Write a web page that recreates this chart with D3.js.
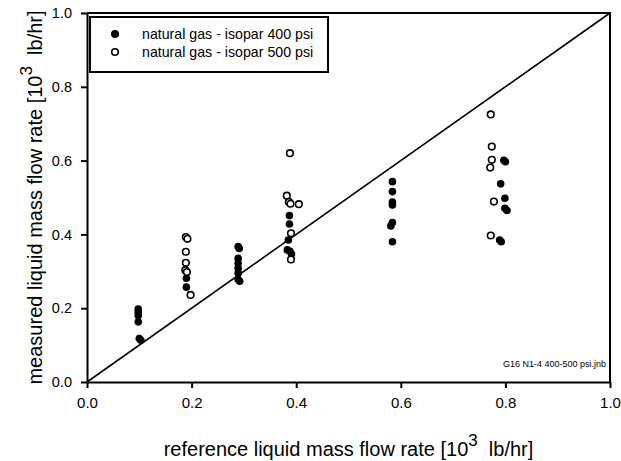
<!DOCTYPE html>
<html lang="en">
<head>
<meta charset="utf-8">
<title>measured vs reference liquid mass flow rate</title>
<script src="https://cdnjs.cloudflare.com/ajax/libs/d3/7.8.5/d3.min.js"></script>
<style>
  body { margin: 0; background: #fff; }
  svg { font-family: "Liberation Sans", Arial, sans-serif; }
  .axis path, .axis line { stroke: #000; stroke-width: 2; }
  .axis text { fill: #000; }
  .xaxis text { font-size: 15px; }
  .yaxis text { font-size: 14.5px; }
</style>
</head>
<body>
<div id="chart"></div>
<script>
// tick values
const ticks = [0.0, 0.2, 0.4, 0.6, 0.8, 1.0];

// natural gas - isopar 400 psi (filled)
const gas400X = [0.098, 0.098, 0.098, 0.098, 0.100, 0.103,
                 0.190, 0.190,
                 0.289, 0.291, 0.289, 0.289, 0.289, 0.289, 0.289, 0.292,
                 0.387, 0.387, 0.385, 0.383, 0.388, 0.391,
                 0.584, 0.584, 0.584, 0.584, 0.584, 0.581, 0.584,
                 0.797, 0.800, 0.791, 0.799, 0.799, 0.803, 0.789, 0.792];
const gas400Y = [0.198, 0.190, 0.180, 0.163, 0.118, 0.113,
                 0.281, 0.257,
                 0.367, 0.362, 0.335, 0.322, 0.308, 0.295, 0.278, 0.273,
                 0.451, 0.428, 0.385, 0.358, 0.354, 0.347,
                 0.543, 0.516, 0.488, 0.480, 0.432, 0.423, 0.380,
                 0.601, 0.597, 0.537, 0.498, 0.471, 0.465, 0.385, 0.380];

// natural gas - isopar 500 psi (open)
const gas500X = [0.189, 0.192, 0.189, 0.189, 0.188, 0.191, 0.198,
                 0.388, 0.382, 0.386, 0.389, 0.405, 0.390, 0.390,
                 0.772, 0.774, 0.774, 0.771, 0.778, 0.772];
const gas500Y = [0.393, 0.388, 0.353, 0.323, 0.303, 0.298, 0.236,
                 0.620, 0.505, 0.488, 0.483, 0.482, 0.403, 0.332,
                 0.725, 0.638, 0.602, 0.581, 0.489, 0.397];

const seriesNames = ["natural gas - isopar 400 psi", "natural gas - isopar 500 psi"];

const width = 621, height = 461;
const margin = {left: 87, right: 11, top: 13, bottom: 79};

const svg = d3.select("#chart").append("svg")
    .attr("width", width)
    .attr("height", height);

const x = d3.scaleLinear().domain([0, 1]).range([margin.left, width - margin.right]);
const y = d3.scaleLinear().domain([0, 1]).range([height - margin.bottom, margin.top]);

// frame (top and right)
svg.append("path")
    .attr("d", `M${x(0)},${y(1)}H${x(1)}V${y(0)}`)
    .attr("fill", "none")
    .attr("stroke", "#000")
    .attr("stroke-width", 2);

// axes
svg.append("g")
    .attr("class", "axis xaxis")
    .attr("transform", `translate(0,${y(0)})`)
    .call(d3.axisBottom(x).tickValues(ticks).tickFormat(d3.format(".1f")).tickSize(6).tickPadding(9).tickSizeOuter(0));

svg.append("g")
    .attr("class", "axis yaxis")
    .attr("transform", `translate(${x(0)},0)`)
    .call(d3.axisLeft(y).tickValues(ticks).tickFormat(d3.format(".1f")).tickSize(6).tickPadding(9).tickSizeOuter(0));

// 1:1 line
svg.append("line")
    .attr("x1", x(0)).attr("y1", y(0))
    .attr("x2", x(1)).attr("y2", y(1))
    .attr("stroke", "#000")
    .attr("stroke-width", 1.6);

// points
svg.append("g").selectAll("circle")
    .data(d3.range(gas400X.length))
    .join("circle")
    .attr("cx", i => x(gas400X[i]))
    .attr("cy", i => y(gas400Y[i]))
    .attr("r", 3.8)
    .attr("fill", "#000");

svg.append("g").selectAll("circle")
    .data(d3.range(gas500X.length))
    .join("circle")
    .attr("cx", i => x(gas500X[i]))
    .attr("cy", i => y(gas500Y[i]))
    .attr("r", 3.3)
    .attr("fill", "#fff")
    .attr("stroke", "#000")
    .attr("stroke-width", 1.6);

// legend
const legend = svg.append("g");
legend.append("rect")
    .attr("x", 90).attr("y", 17)
    .attr("width", 238).attr("height", 55)
    .attr("fill", "#fff")
    .attr("stroke", "#000")
    .attr("stroke-width", 2);
seriesNames.forEach((name, i) => {
    const ly = 34 + i * 18;
    legend.append("circle")
        .attr("cx", 115).attr("cy", ly)
        .attr("r", i === 0 ? 4 : 3.3)
        .attr("fill", i === 0 ? "#000" : "#fff")
        .attr("stroke", "#000")
        .attr("stroke-width", i === 0 ? 0 : 1.6);
    legend.append("text")
        .attr("x", 142).attr("y", ly + 4.5)
        .attr("font-size", 14.2)
        .text(name);
});

// file note
svg.append("text")
    .attr("x", 606).attr("y", 367)
    .attr("text-anchor", "end")
    .attr("font-size", 9)
    .text("G16 N1-4 400-500 psi.jnb");

// axis titles
const xt = svg.append("text")
    .attr("x", (x(0) + x(1)) / 2)
    .attr("y", 456)
    .attr("text-anchor", "middle")
    .attr("font-size", 20)
    .style("white-space", "pre");
xt.append("tspan").text("reference liquid mass flow rate [10");
xt.append("tspan").attr("dy", -10).attr("font-size", 17).text("3");
xt.append("tspan").attr("dy", 10).text("  lb/hr]");

const yt = svg.append("text")
    .attr("transform", `translate(42,${(y(0) + y(1)) / 2}) rotate(-90)`)
    .attr("text-anchor", "middle")
    .attr("font-size", 20)
    .style("white-space", "pre");
yt.append("tspan").text("measured liquid mass flow rate [10");
yt.append("tspan").attr("dy", -10).attr("font-size", 17).text("3");
yt.append("tspan").attr("dy", 10).text("  lb/hr]");
</script>
</body>
</html>
